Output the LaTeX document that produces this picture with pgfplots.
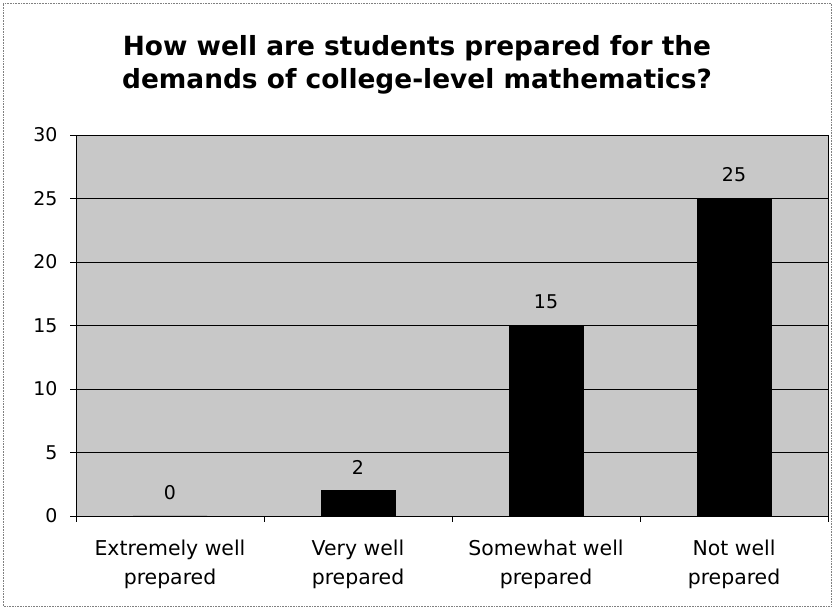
\documentclass[border=0pt]{standalone}
\usepackage{fontspec}
\setmainfont{DejaVu Sans}
\usepackage{pgfplots}
\pgfplotsset{compat=1.18}
\definecolor{plotbg}{RGB}{200,200,200}
\begin{document}
\begin{tikzpicture}[x=1bp,y=1bp]
\useasboundingbox (0,0) rectangle (834,609);
\draw[gray, densely dotted, line width=0.6bp] (3,3) rectangle (831,606);
\node[align=center, font=\fontsize{26.5}{33}\selectfont\bfseries] at (417,544)
  {How well are students prepared for the\\demands of college-level mathematics?};
\begin{axis}[
  at={(76bp,93bp)}, anchor=south west,
  scale only axis, width=752bp, height=381bp,
  xmin=0, xmax=4, ymin=0, ymax=30,
  ytick={0,5,10,15,20,25,30},
  xtick={0,1,2,3,4},
  xticklabels={{Extremely well\\prepared},{Very well\\prepared},{Somewhat well\\prepared},{Not well\\prepared},{}},
  x tick label style={align=center, xshift=94bp, yshift=-14bp, font=\fontsize{20.5}{30}\selectfont},
  y tick label style={xshift=-9bp, font=\fontsize{19}{20}\selectfont},
  /pgf/number format/assume math mode=true,
  tick align=outside, major tick length=6bp,
  tick style={black, line width=0.6bp},
  xtick pos=bottom, ytick pos=left,
  axis background/.style={fill=plotbg},
  axis line style={black, line width=0.8bp},
  ymajorgrids, grid style={black, line width=0.5bp},
  nodes near coords,
  every node near coord/.append style={font=\fontsize{19}{20}\selectfont, yshift=13bp},
]
\addplot[ybar, bar width=74bp, fill=black, draw=black] coordinates {(0.5,0) (1.5,2) (2.5,15) (3.5,25)};
\end{axis}
\end{tikzpicture}
\end{document}
